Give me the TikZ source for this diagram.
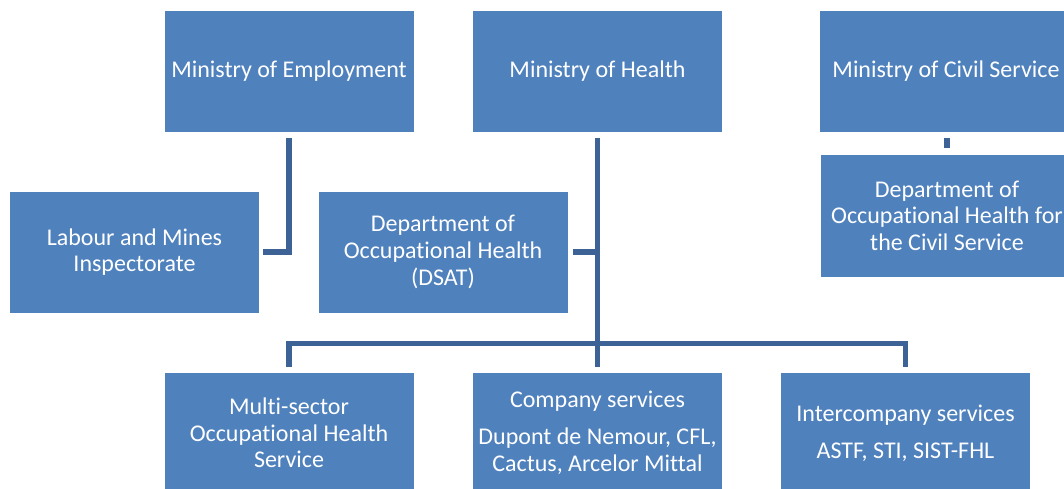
\documentclass[tikz,border=0pt]{standalone}
\usepackage{fontspec}
\setmainfont[Ligatures=NoCommon]{Carlito}
\begin{document}
\definecolor{boxfill}{HTML}{4F81BD}
\definecolor{linkblue}{RGB}{61,99,150}
\begin{tikzpicture}[x=1pt,y=-1pt,
  box/.style={fill=boxfill, draw=none, text=white, align=center,
    minimum width=249pt, minimum height=121pt, inner sep=2pt,
    font=\fontsize{24}{26.6}\selectfont},
  link/.style={draw=linkblue, line width=5.5pt, line cap=butt, line join=miter}]
\useasboundingbox (0,0) rectangle (1064,488);
\clip (0,0) rectangle (1064,488);

% top row: ministries
\node[box] (emp)    at (289,71.5)   {Ministry of Employment};
\node[box] (health) at (597.5,71.5) {Ministry of Health};
\node[box, minimum width=252pt] (civil) at (946,71.5) {Ministry of Civil Service};

% second row
\node[box] (labour) at (134.5,252) {Labour and Mines\\Inspectorate};
\node[box] (dsat)   at (443,252)   {Department of\\Occupational Health\\(DSAT)};
\node[box, minimum width=252pt, minimum height=122pt] (dcivil) at (947,215.5)
  {Department of\\Occupational Health for\\the Civil Service};

% bottom row: services
\node[box] (multi) at (289,433)   {Multi-sector\\Occupational Health\\Service};
\node[box] (comp)  at (597.5,433) {Company services\\[10.5pt]Dupont de Nemour, CFL,\\Cactus, Arcelor Mittal};
\node[box] (inter) at (905.5,433) {Intercompany services\\[10.5pt]ASTF, STI, SIST-FHL};

% connectors
\draw[link] ([yshift=-6pt]emp.south) |- ([xshift=4pt]labour.east);
\draw[link] ([yshift=-6pt]health.south) -- ([yshift=5pt]comp.north);
\draw[link] ([xshift=5pt]dsat.east) -- (dsat.east -| health.south);
\coordinate (bus) at ([yshift=29pt]comp.north);
\draw[link] ([yshift=5pt]multi.north) |- (bus) -| ([yshift=5pt]inter.north);
\draw[link] (dcivil.north |- civil.south) ++(0,6) -- ([yshift=6pt]dcivil.north);
\end{tikzpicture}
\end{document}
